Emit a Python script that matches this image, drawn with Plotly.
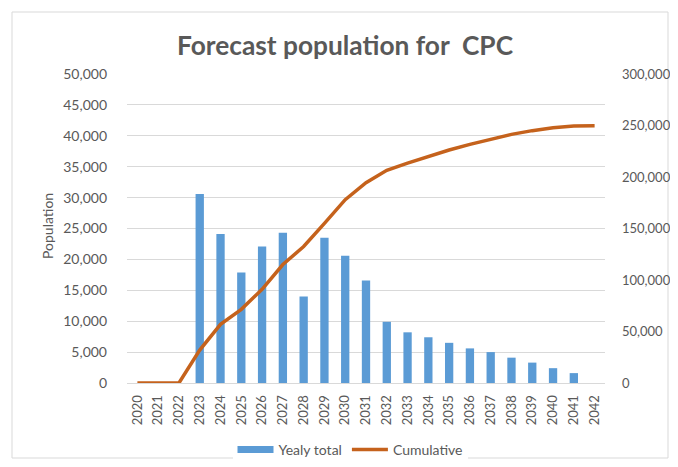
import plotly.graph_objects as go

years = [str(y) for y in range(2020, 2043)]
yearly_total = [0, 0, 0, 30600, 24100, 17900, 22100, 24300, 14000, 23500, 20600,
                16600, 9900, 8200, 7400, 6500, 5600, 5000, 4100, 3300, 2400, 1600, 0]
cumulative = [0, 0, 0, 32000, 57000, 71500, 91000, 115000, 132500, 155000, 178000,
              194500, 206500, 213500, 220000, 226200, 231700, 236900, 241400, 245000,
              247900, 249500, 249700]

grey = "#595959"
font_family = "Lato"
bar_color = "#5B9BD5"
line_color = "#C5621C"

# figure is drawn inside the page's 8px body margin
W, H = 662, 451
L, R, T, B = 119, 597, 66, 375  # plot area in figure pixels
PW, PH = R - L, B - T

fig = go.Figure()
fig.add_trace(go.Bar(x=years, y=yearly_total, name="Yealy total",
                     marker=dict(color=bar_color, line=dict(width=0)), yaxis="y",
                     showlegend=False))
# legend swatch for the bars (wide rectangle like the reference)
fig.add_trace(go.Scatter(x=[None], y=[None], name="Yealy total", mode="lines",
                         line=dict(color=bar_color, width=7), yaxis="y"))
fig.add_trace(go.Scatter(x=years, y=cumulative, name="Cumulative", mode="lines",
                         line=dict(color=line_color, width=3.5), yaxis="y2"))

fig.update_layout(
    width=W, height=H,
    margin=dict(l=L, r=W - R, t=T, b=H - B, autoexpand=False),
    paper_bgcolor="white", plot_bgcolor="white",
    font=dict(family=font_family, color=grey, size=13),
    title=dict(text="Forecast population for  CPC", x=337 / W, xref="container",
               xanchor="center", y=1 - 38 / H, yref="container", yanchor="middle",
               font=dict(family=font_family, size=26.3, color=grey, weight="bold")),
    bargap=0.6,
    showlegend=True,
    legend=dict(orientation="h", x=342 / W, xref="container", xanchor="center",
                y=1 - 442 / H, yref="container", yanchor="middle",
                font=dict(size=14, color=grey), itemwidth=36, tracegroupgap=0),
    xaxis=dict(type="category", tickangle=-90, showgrid=False, showline=True,
               linecolor="#d9d9d9", linewidth=1, ticks="", tickfont=dict(size=13),
               ticklabelstandoff=6, automargin=False),
    yaxis=dict(range=[0, 50000], dtick=5000, tickformat=",d", showgrid=True,
               gridcolor="#d9d9d9", gridwidth=1, zeroline=False,
               ticklabelstandoff=19, tickfont=dict(size=14), automargin=False),
    yaxis2=dict(range=[0, 300000], dtick=50000, tickformat=",d", overlaying="y",
                side="right", showgrid=False, zeroline=False,
                ticklabelstandoff=16, tickfont=dict(size=13), automargin=False),
    annotations=[dict(text="Population", textangle=-90, xref="paper", yref="paper",
                      x=(39 - L) / PW, y=(B - 218) / PH, xanchor="center",
                      yanchor="middle", showarrow=False,
                      font=dict(size=14, color=grey, family=font_family))],
    shapes=[dict(type="rect", xref="paper", yref="paper",
                 x0=(4 - L) / PW, x1=(660 - L) / PW,
                 y0=(B - 450) / PH, y1=(B - 4) / PH,
                 line=dict(color="#d9d9d9", width=1), fillcolor="rgba(0,0,0,0)",
                 layer="below")],
)

fig.write_html("out.html")
